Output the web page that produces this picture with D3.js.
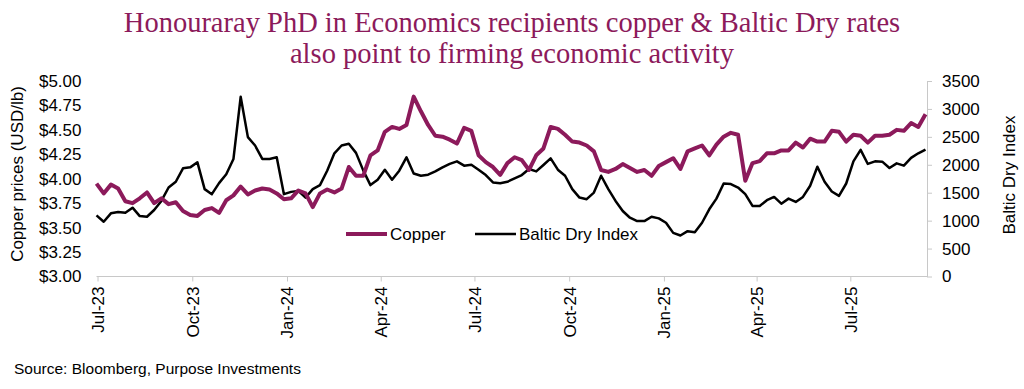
<!DOCTYPE html>
<html>
<head>
<meta charset="utf-8">
<script src="https://cdn.jsdelivr.net/npm/d3@7"></script>
<style>
  body { margin: 0; background: #fff; }
  svg { display: block; font-family: "Liberation Sans", Arial, sans-serif; }
</style>
</head>
<body>
<svg width="1024" height="389"></svg>
<script>
// weekly readings, Friday closes from 30 Jun 2023 to 12 Sep 2025
var startDate = new Date(2023, 5, 30), endDate = new Date(2025, 8, 13);

var copper = [
  3.95, 3.85, 3.94, 3.90, 3.77, 3.75, 3.80, 3.86, 3.75, 3.80, 3.74, 3.76, 3.67, 3.63, 3.62, 3.68, 3.70, 3.65, 3.78,
  3.83, 3.92, 3.84, 3.88, 3.90, 3.89, 3.85, 3.79, 3.80, 3.88, 3.85, 3.71, 3.85, 3.89, 3.86, 3.90, 4.12, 4.03, 4.03,
  4.24, 4.29, 4.48, 4.53, 4.51, 4.55, 4.84, 4.69, 4.55, 4.44, 4.43, 4.40, 4.36, 4.52, 4.49, 4.24, 4.17, 4.12, 4.04,
  4.16, 4.22, 4.19, 4.09, 4.24, 4.31, 4.53, 4.51, 4.45, 4.38, 4.37, 4.34, 4.28, 4.09, 4.07, 4.10, 4.15, 4.11,
  4.07, 4.09, 4.03, 4.13, 4.17, 4.21, 4.10, 4.28, 4.31, 4.34, 4.24, 4.35, 4.43, 4.47, 4.45, 3.98, 4.16, 4.18,
  4.26, 4.26, 4.29, 4.29, 4.37, 4.32, 4.41, 4.38, 4.38, 4.49, 4.48, 4.38, 4.45, 4.44, 4.37, 4.44, 4.44, 4.45,
  4.50, 4.49, 4.57, 4.53, 4.66
];

var bdi = [
  1095, 980, 1131, 1155, 1142, 1232, 1082, 1070, 1190, 1353, 1593, 1696, 1936, 1954, 2044, 1564, 1474, 1672, 1830,
  2105, 3217, 2495, 2345, 2105, 2105, 2134, 1474, 1515, 1533, 1413, 1564, 1636, 1894, 2206, 2345, 2376, 2213, 1900,
  1636, 1732, 1912, 1732, 1894, 2134, 1845, 1804, 1822, 1882, 1954, 2015, 2062, 1984, 2002, 1912, 1816, 1683, 1670,
  1696, 1755, 1816, 1925, 1882, 1997, 2116, 1912, 1804, 1564, 1413, 1384, 1503, 1804, 1564, 1353, 1173, 1052,
  992, 992, 1070, 1041, 962, 781, 734, 812, 794, 962, 1203, 1394, 1665, 1654, 1593, 1474, 1263, 1263,
  1366, 1425, 1304, 1394, 1335, 1425, 1624, 1966, 1696, 1521, 1443, 1665, 2062, 2268, 2015, 2062, 2056, 1943,
  2026, 1984, 2123, 2206, 2273
];

var copperTicks = [3.00, 3.25, 3.50, 3.75, 4.00, 4.25, 4.50, 4.75, 5.00];
var bdiTicks = [0, 500, 1000, 1500, 2000, 2500, 3000, 3500];
var titleLines = ["Honouraray PhD in Economics recipients copper & Baltic Dry rates",
                  "also point to firming economic activity"];

var dates = d3.timeFriday.range(startDate, endDate);
var rows = dates.map(function(d, i){ return {date: d, copper: copper[i], bdi: bdi[i]}; });

var svg = d3.select("svg");
var plotLeft = 96.5, plotRight = 927, plotTop = 81, plotBottom = 276.5;
var plum = "#8c1a5b", grid = "#c8c8c8", fs = 17;

var x = d3.scaleTime().domain([dates[0], dates[dates.length - 1]]).range([plotLeft, plotRight - 1.5]);
var yC = d3.scaleLinear().domain([3, 5]).range([plotBottom, plotTop]);
var yB = d3.scaleLinear().domain([0, 3500]).range([plotBottom, plotTop]);

// title
svg.append("g").selectAll("text").data(titleLines).enter().append("text")
  .attr("x", 512).attr("y", function(d, i){ return 32 + i * 31; })
  .attr("text-anchor", "middle")
  .attr("font-family", "'Liberation Serif', 'DejaVu Serif', serif")
  .attr("font-size", 28.5)
  .attr("fill", plum)
  .text(function(d){ return d; });

// x axis
var qTicks = d3.timeMonth.range(new Date(2023, 6, 1), new Date(2025, 8, 1), 3);
var xAxis = svg.append("g").attr("transform", "translate(0," + plotBottom + ")")
  .call(d3.axisBottom(x).tickValues(qTicks).tickFormat(d3.timeFormat("%b-%y")).tickSize(5).tickSizeOuter(0));
xAxis.select(".domain").attr("stroke", grid).attr("d", "M" + plotLeft + ",0H" + plotRight);
xAxis.selectAll(".tick line").attr("stroke", grid);
xAxis.selectAll(".tick text")
  .attr("font-size", fs).attr("fill", "#000").attr("font-family", "'Liberation Sans', Arial, sans-serif")
  .attr("transform", "rotate(-90)")
  .attr("text-anchor", "end")
  .attr("x", -10).attr("y", 0).attr("dy", "0.35em");

// left axis (no line)
var lAxis = svg.append("g").attr("transform", "translate(" + plotLeft + ",0)")
  .call(d3.axisLeft(yC).tickValues(copperTicks).tickFormat(d3.format("$.2f")).tickSize(0).tickPadding(15));
lAxis.select(".domain").remove();
lAxis.selectAll("text").attr("font-size", fs).attr("fill", "#000").attr("font-family", "'Liberation Sans', Arial, sans-serif");

// right axis
var rAxis = svg.append("g").attr("transform", "translate(" + plotRight + ",0)")
  .call(d3.axisRight(yB).tickValues(bdiTicks).tickFormat(d3.format("d")).tickSize(5).tickSizeOuter(0).tickPadding(10));
rAxis.select(".domain").attr("stroke", grid);
rAxis.selectAll(".tick line").attr("stroke", grid);
rAxis.selectAll("text").attr("font-size", fs).attr("fill", "#000").attr("font-family", "'Liberation Sans', Arial, sans-serif");

// axis titles
svg.append("text").attr("transform", "translate(23,174) rotate(-90)")
  .attr("text-anchor", "middle").attr("font-size", fs).text("Copper prices (USD/lb)");
svg.append("text").attr("transform", "translate(1015,175) rotate(-90)")
  .attr("text-anchor", "middle").attr("font-size", fs).text("Baltic Dry Index");

// lines
var lineB = d3.line().x(function(d){ return x(d.date); }).y(function(d){ return yB(d.bdi); });
var lineC = d3.line().x(function(d){ return x(d.date); }).y(function(d){ return yC(d.copper); });
svg.append("path").datum(rows).attr("d", lineB)
  .attr("fill", "none").attr("stroke", "#000").attr("stroke-width", 2.5).attr("stroke-linejoin", "round");
svg.append("path").datum(rows).attr("d", lineC)
  .attr("fill", "none").attr("stroke", plum).attr("stroke-width", 4).attr("stroke-linejoin", "round");

// legend
var legend = [{name: "Copper", color: plum, w: 4, x: 346}, {name: "Baltic Dry Index", color: "#000", w: 2.5, x: 475}];
var lg = svg.append("g").selectAll("g").data(legend).enter().append("g");
lg.append("line").attr("x1", function(d){ return d.x; }).attr("x2", function(d){ return d.x + 41; })
  .attr("y1", 234).attr("y2", 234)
  .attr("stroke", function(d){ return d.color; }).attr("stroke-width", function(d){ return d.w; });
lg.append("text").attr("x", function(d){ return d.x + 44; }).attr("y", 240)
  .attr("font-size", fs).text(function(d){ return d.name; });

// source
svg.append("text").attr("x", 14).attr("y", 374).attr("font-size", 15.5).text("Source: Bloomberg, Purpose Investments");
</script>
</body>
</html>
